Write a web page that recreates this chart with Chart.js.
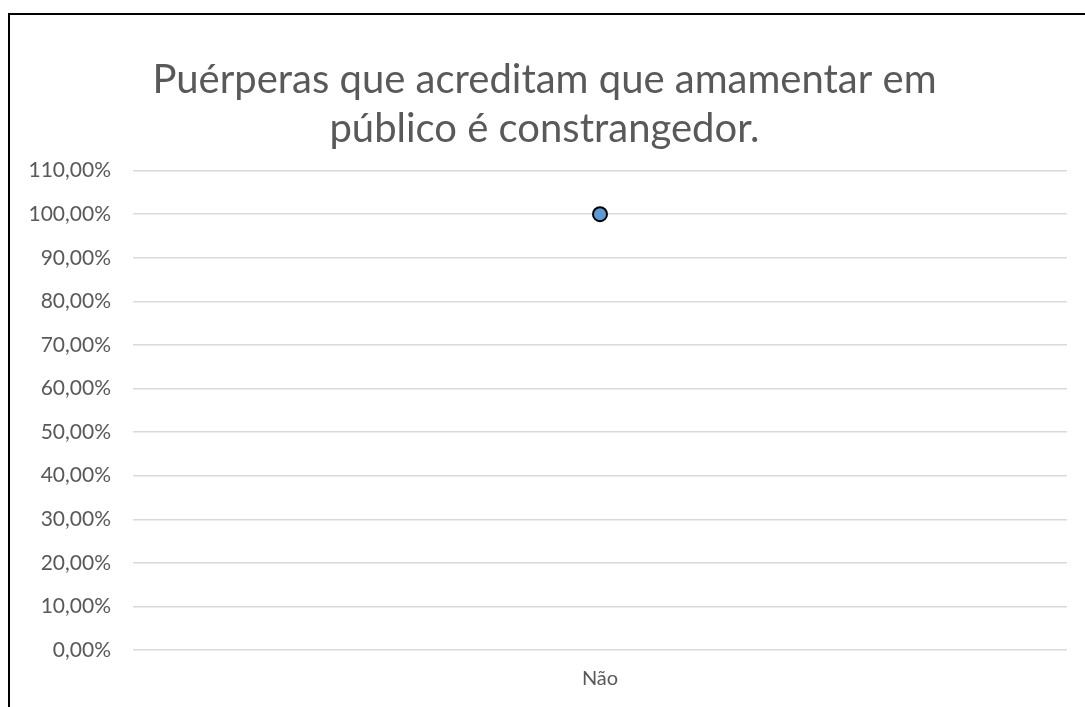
<!DOCTYPE html>
<html>
<head>
<meta charset="utf-8">
<script src="https://cdn.jsdelivr.net/npm/chart.js@4/dist/chart.umd.min.js"></script>
<style>
  html, body { margin: 0; padding: 0; background: #fff; overflow: hidden; }
  #frame { position: absolute; left: 8px; top: 13px; width: 1100px; height: 720px;
           border-left: 2px solid #000; border-top: 2px solid #000; }
  #wrap { position: absolute; left: 0; top: 0; width: 1085px; height: 707px; }
</style>
</head>
<body>
<div id="frame"></div>
<div id="wrap"><canvas id="chart" width="1085" height="707"></canvas></div>
<script>
const categorias = ['Não'];
const valores = [100];
const titulo = ['Puérperas que acreditam que amamentar em', 'público é constrangedor.'];
const yMin = 0, yMax = 110, yPasso = 10;

const cinza = '#595959';
const fonte = 'Lato, Carlito, Calibri, sans-serif';

const ctx = document.getElementById('chart').getContext('2d');
new Chart(ctx, {
  type: 'line',
  data: {
    labels: categorias,
    datasets: [{
      label: 'Série',
      data: valores,
      showLine: false,
      pointRadius: 7,
      pointHoverRadius: 7,
      pointBackgroundColor: '#5b9bd5',
      pointBorderColor: '#000',
      pointBorderWidth: 2
    }]
  },
  options: {
    responsive: false,
    animation: false,
    layout: { padding: { top: 20, right: 18, left: 22, bottom: 0 } },
    plugins: {
      legend: { display: false },
      tooltip: { enabled: false },
      title: {
        display: true,
        text: titulo,
        color: cinza,
        font: { family: fonte, size: 40, weight: 'normal', lineHeight: 1.22 },
        padding: { top: 36, bottom: 17 }
      }
    },
    scales: {
      x: {
        offset: true,
        grid: { display: false, drawTicks: false },
        border: { display: false },
        ticks: { color: cinza, font: { family: fonte, size: 20 }, padding: 17 },
        afterFit: s => { s.height = 57; }
      },
      y: {
        min: yMin,
        max: yMax,
        grid: { color: '#d9d9d9', lineWidth: 1.5, drawTicks: false },
        border: { display: false },
        ticks: {
          stepSize: yPasso,
          color: cinza,
          font: { family: fonte, size: 21 },
          padding: 22,
          callback: v => v.toFixed(2).replace('.', ',') + '%'
        },
        afterFit: s => { s.width = 111; }
      }
    }
  }
});
</script>
</body>
</html>
